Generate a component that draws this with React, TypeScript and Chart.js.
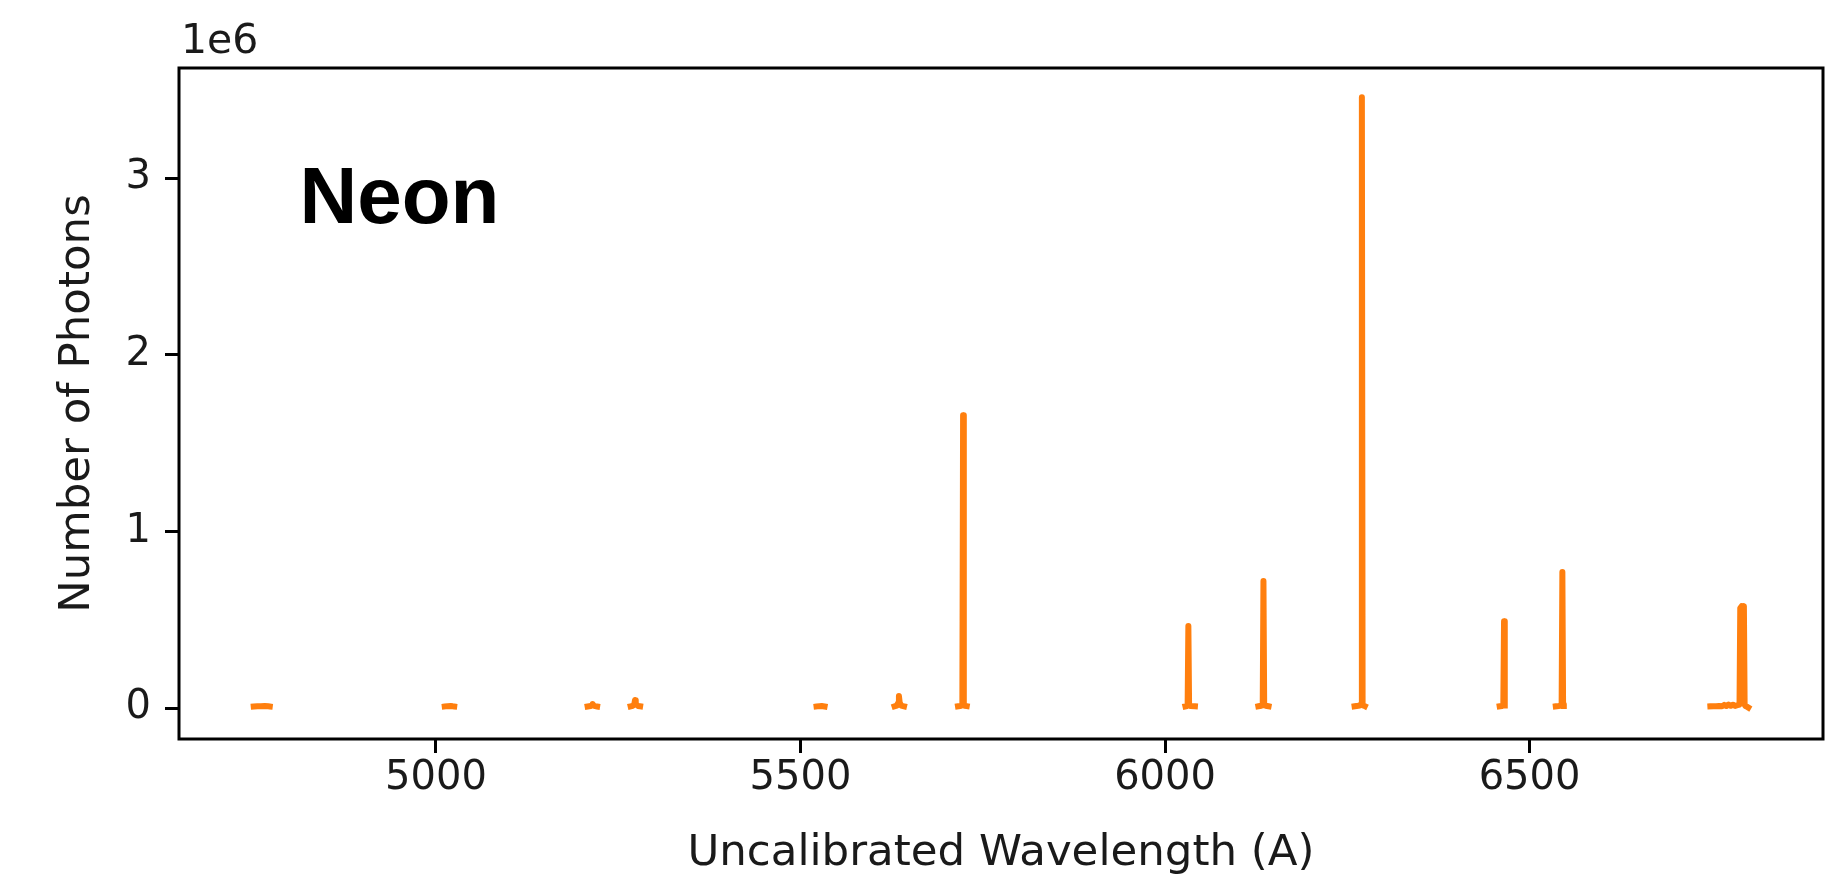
import React, { useEffect, useRef } from "react";
import { Chart, registerables } from "chart.js";

Chart.register(...registerables);

// Wavelength samples (Å); null photon values separate the measured segments
const WAVELENGTH: number[] = [
  4750, 4755, 4760, 4765, 4770, 4772, 4900,
  5012, 5016, 5020, 5023, 5025, 5100,
  5208, 5212, 5214, 5215, 5216, 5218, 5221, 5245,
  5267, 5270, 5272, 5273, 5274, 5277, 5280, 5400,
  5522, 5526, 5529, 5533, 5580,
  5629, 5632, 5634, 5635, 5636, 5638, 5642, 5680,
  5716, 5719, 5721, 5722, 5723, 5724, 5725, 5728, 5900,
  6028, 6030, 6031, 6032, 6033, 6035, 6041, 6080,
  6128, 6132, 6134, 6135, 6136, 6138, 6142, 6200,
  6260, 6265, 6268, 6269, 6270, 6271, 6272, 6274, 6400,
  6459, 6462, 6464, 6465, 6466, 6500,
  6536, 6540, 6543, 6544, 6545, 6546, 6547, 6650,
  6748, 6752, 6756, 6760, 6764, 6767, 6770, 6773, 6776, 6779, 6782, 6785,
  6788, 6789, 6791, 6792, 6794, 6795, 6796, 6798, 6800,
];

const PHOTONS: (number | null)[] = [
  9000, 11000, 10000, 12000, 10000, 9000, null,
  9000, 11000, 12000, 10000, 9000, null,
  9000, 12000, 16000, 23000, 15000, 11000, 9000, null,
  10000, 13000, 22000, 45000, 24000, 12000, 10000, null,
  9000, 11000, 12000, 9000, null,
  10000, 14000, 30000, 68000, 32000, 14000, 10000, null,
  10000, 12000, 14000, 20000, 1658000, 20000, 13000, 11000, null,
  10000, 12000, 15000, 464000, 16000, 12000, 10000, null,
  10000, 13000, 16000, 719000, 18000, 13000, 10000, null,
  10000, 13000, 16000, 25000, 3458000, 25000, 15000, 11000, null,
  10000, 12000, 16000, 492000, 15000, null,
  10000, 12000, 14000, 20000, 770000, 20000, 12000, null,
  10000, 11000, 10000, 12000, 10000, 18000, 12000, 20000, 13000, 19000, 12000, 16000,
  20000, 565000, 577000, 540000, 577000, 20000, 12000, 8000, 3000,
];

const X_TICKS = [5000, 5500, 6000, 6500];
const Y_TICKS = [0, 1e6, 2e6, 3e6];
const X_RANGE = [4647.5, 6902.5];
const Y_RANGE = [-0.175e6, 3.623e6];
const X_TITLE = "Uncalibrated Wavelength (A)";
const Y_TITLE = "Number of Photons";
const OFFSET_TEXT = "1e6";
const LABEL_TEXT = "Neon";
const LABEL_POS = [4812.7, 2.745e6];

const framePlugin = {
  id: "frameAndText",
  afterDraw(chart: any) {
    const { ctx, chartArea, scales } = chart;
    ctx.save();
    ctx.strokeStyle = "#000";
    ctx.lineWidth = 3;
    ctx.strokeRect(
      chartArea.left,
      chartArea.top,
      chartArea.right - chartArea.left,
      chartArea.bottom - chartArea.top
    );
    ctx.fillStyle = "#1a1a1a";
    ctx.font = "41px 'DejaVu Sans'";
    ctx.textAlign = "left";
    ctx.textBaseline = "alphabetic";
    ctx.fillText(OFFSET_TEXT, chartArea.left + 2, chartArea.top - 15);
    ctx.fillStyle = "#000";
    ctx.font = "bold 80px 'Liberation Sans'";
    ctx.fillText(
      LABEL_TEXT,
      scales.x.getPixelForValue(LABEL_POS[0]),
      scales.y.getPixelForValue(LABEL_POS[1])
    );
    ctx.restore();
  },
};

export default function App() {
  const ref = useRef<HTMLCanvasElement>(null);
  useEffect(() => {
    document.body.style.margin = "0";
    const canvas = ref.current;
    if (!canvas) return;
    const data = WAVELENGTH.map((x, i) => ({ x, y: PHOTONS[i] }));
    const tickFont = { family: "'DejaVu Sans'", size: 40, lineHeight: 1 };
    const titleFont = { family: "'DejaVu Sans'", size: 43.5, lineHeight: 1 };
    const chart = new Chart(canvas, {
      type: "line",
      data: {
        datasets: [
          {
            data: data as any,
            borderColor: "#ff7f0e",
            borderWidth: 6,
            borderJoinStyle: "round",
            borderCapStyle: "square",
            pointRadius: 0,
            fill: false,
            spanGaps: false,
            tension: 0,
          },
        ],
      },
      options: {
        responsive: false,
        animation: false,
        devicePixelRatio: 1,
        layout: { padding: { top: 68, right: 5, left: 0, bottom: 0 } },
        plugins: {
          legend: { display: false },
          tooltip: { enabled: false },
        },
        scales: {
          x: {
            type: "linear",
            min: X_RANGE[0],
            max: X_RANGE[1],
            afterBuildTicks: (s: any) => {
              s.ticks = X_TICKS.map((v) => ({ value: v }));
            },
            afterFit: (s: any) => {
              s.height = 140;
            },
            ticks: {
              font: tickFont,
              color: "#1a1a1a",
              padding: 6,
              maxRotation: 0,
              autoSkip: false,
              callback: (v: any) => String(v),
            },
            grid: {
              drawOnChartArea: false,
              drawTicks: true,
              tickLength: 14,
              tickWidth: 3,
              tickColor: "#000",
            },
            border: { display: false },
            title: {
              display: true,
              text: X_TITLE,
              font: titleFont,
              color: "#1a1a1a",
              padding: { top: 0, bottom: 4 },
            },
          },
          y: {
            type: "linear",
            min: Y_RANGE[0],
            max: Y_RANGE[1],
            afterBuildTicks: (s: any) => {
              s.ticks = Y_TICKS.map((v) => ({ value: v }));
            },
            afterFit: (s: any) => {
              s.width = 179;
            },
            ticks: {
              font: tickFont,
              color: "#1a1a1a",
              padding: 14,
              autoSkip: false,
              callback: (v: any) => String(Math.round(Number(v) / 1e6)),
            },
            grid: {
              drawOnChartArea: false,
              drawTicks: true,
              tickLength: 14,
              tickWidth: 3,
              tickColor: "#000",
            },
            border: { display: false },
            title: {
              display: true,
              text: Y_TITLE,
              font: titleFont,
              color: "#1a1a1a",
              padding: { top: 56, bottom: 0 },
            },
          },
        },
      },
      plugins: [framePlugin],
    });
    return () => chart.destroy();
  }, []);
  return (
    <div style={{ width: 1828, height: 879 }}>
      <canvas ref={ref} width={1828} height={879} style={{ display: "block" }} />
    </div>
  );
}
